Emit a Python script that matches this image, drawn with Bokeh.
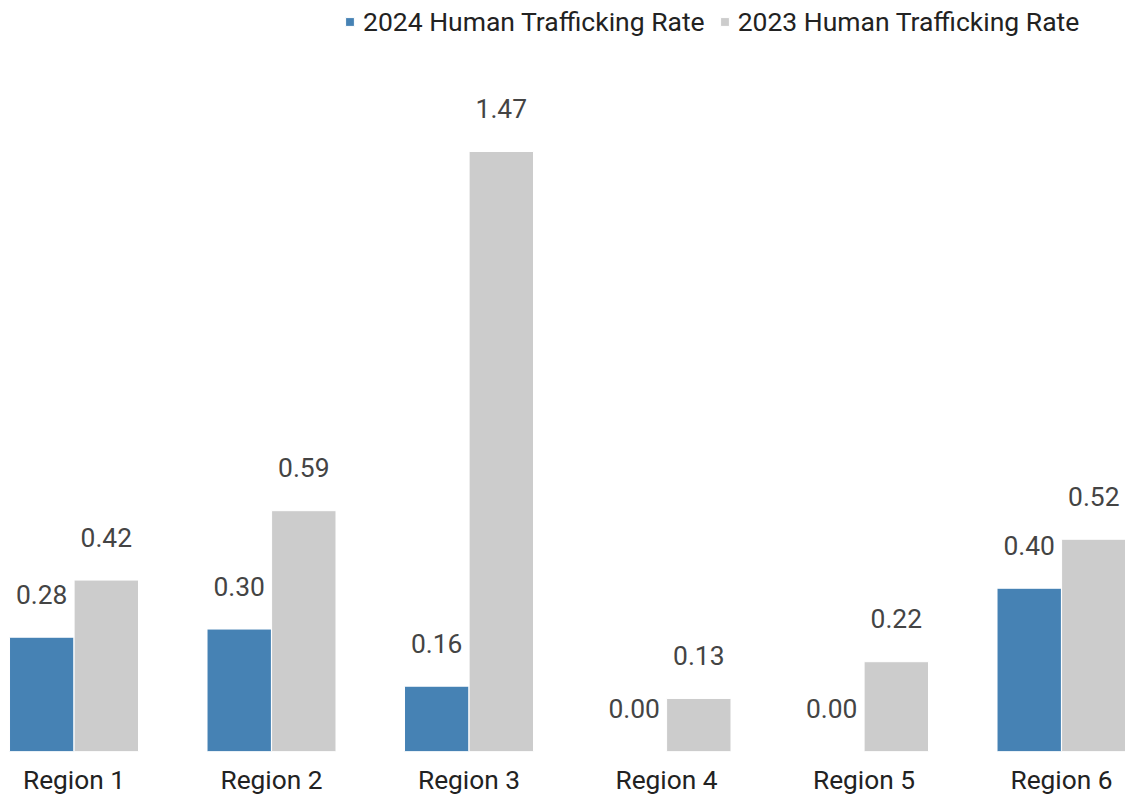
from bokeh.plotting import figure
from bokeh.models import ColumnDataSource, Range1d, Legend, LegendItem, FixedTicker
from bokeh.core.properties import value
from bokeh.embed import file_html
from bokeh.resources import INLINE

regions = ["Region 1", "Region 2", "Region 3", "Region 4", "Region 5", "Region 6"]
rate_2024 = [0.28, 0.30, 0.16, 0.00, 0.00, 0.40]
rate_2023 = [0.42, 0.59, 1.47, 0.13, 0.22, 0.52]
series_names = ["2024 Human Trafficking Rate", "2023 Human Trafficking Rate"]
colors = ["#4682b4", "#cccccc"]

FONT = "Roboto"
idx = list(range(len(regions)))
off = 0.1635
bw = 0.326

src24 = ColumnDataSource(dict(x=[i - off for i in idx], y=rate_2024,
                              lab=[f"{v:.2f}" for v in rate_2024]))
src23 = ColumnDataSource(dict(x=[i + off for i in idx], y=rate_2023,
                              lab=[f"{v:.2f}" for v in rate_2023]))

p = figure(width=1125, height=797, output_backend="svg", toolbar_location=None,
           x_range=Range1d(-0.3722, 5.324), y_range=Range1d(0, 1.84),
           min_border_left=0, min_border_right=0, min_border_top=0, min_border_bottom=46)
p.outline_line_color = None
p.xgrid.visible = False
p.ygrid.visible = False
p.yaxis.visible = False

r24 = p.vbar(x="x", top="y", width=bw, source=src24, fill_color=colors[0], line_color="white", line_width=1)
r23 = p.vbar(x="x", top="y", width=bw, source=src23, fill_color=colors[1], line_color="white", line_width=1)

for s in (src24, src23):
    p.text(x="x", y="y", text="lab", source=s, y_offset=-43, text_align="center",
           text_baseline="middle", text_font=value(FONT), text_font_size="26.4px",
           text_color="#444444")

ax = p.xaxis[0]
ax.ticker = FixedTicker(ticks=idx)
ax.major_label_overrides = {i: r for i, r in zip(idx, regions)}
ax.axis_line_color = None
ax.major_tick_line_color = None
ax.minor_tick_line_color = None
ax.major_label_standoff = 7
ax.major_label_text_font = FONT
ax.major_label_text_font_size = "26.3px"
ax.major_label_text_color = "#222222"

legend = Legend(items=[LegendItem(label=series_names[0], renderers=[r24]),
                       LegendItem(label=series_names[1], renderers=[r23])],
                orientation="horizontal", location=(344, 714))
legend.label_text_font = FONT
legend.label_text_font_size = "26.5px"
legend.label_text_color = "#222222"
legend.glyph_width = 11
legend.glyph_height = 11
legend.label_standoff = 8
legend.spacing = 14
legend.padding = 0
legend.margin = 0
legend.border_line_color = None
legend.background_fill_alpha = 0
p.add_layout(legend, "center")

open("out.html", "w").write(file_html(p, INLINE))
